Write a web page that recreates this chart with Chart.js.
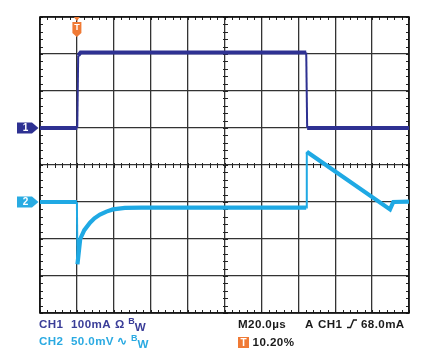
<!DOCTYPE html>
<html><head><meta charset="utf-8">
<script src="https://cdn.jsdelivr.net/npm/chart.js@4.4.1/dist/chart.umd.min.js"></script>
<style>
html,body{margin:0;padding:0;background:#fff;}
#wrap{position:relative;width:427px;height:363px;overflow:hidden;background:#fff;}
#c{position:absolute;left:0;top:0;}
.t{position:absolute;font-family:"Liberation Sans",Arial,sans-serif;font-weight:bold;font-size:11.6px;letter-spacing:0.4px;white-space:nowrap;line-height:12px;}
.c1{color:#3a3d98;}
.c2{color:#2aaae2;}
.k{color:#1a1a1a;}
.sup{font-size:9px;position:relative;top:-4px;letter-spacing:0;}
.sub{position:relative;top:3px;}
.tbox{display:inline-block;width:11px;height:11px;background:#f07a35;color:#fff;text-align:center;font-size:10px;line-height:11px;letter-spacing:0;}
</style></head>
<body><div id="wrap"><canvas id="c" width="427" height="363"></canvas>
<div class="t c1" style="left:39px;top:318px;">CH1</div>
<div class="t c1" style="left:71px;top:318px;">100mA</div>
<div class="t c1" style="left:115px;top:318px;">Ω <span class="sup">B</span><span class="sub">W</span></div>
<div class="t c2" style="left:39px;top:335px;">CH2</div>
<div class="t c2" style="left:71px;top:335px;">50.0mV</div>
<div class="t c2" style="left:117px;top:335px;"><span style="font-size:12px">∿</span> <span class="sup">B</span><span class="sub">W</span></div>
<div class="t k" style="left:238px;top:318px;">M20.0µs</div>
<div class="t k" style="left:305px;top:318px;">A</div>
<div class="t k" style="left:318px;top:318px;">CH1</div>
<svg style="position:absolute;left:347px;top:319px;" width="10" height="10"><path d="M0,8.5 H3.5 L6.5,1 H10" fill="none" stroke="#1a1a1a" stroke-width="1.4"/></svg>
<div class="t k" style="left:361px;top:318px;">68.0mA</div>
<div class="t k" style="left:238px;top:336px;"><span class="tbox">T</span> 10.20%</div>
</div>
<script>
// Horizontal: M20.0µs per division, trigger at 0 µs (one division from the left)
const timeMinUs = -20;
const timeMaxUs = 180;
const timePerDivUs = 20;
// Vertical divisions
const divMin = -4;
const divMax = 4;
// CH1: 100 mA/div, ground marker at +1 div
const ch1mAPerDiv = 100;
const ch1GroundDiv = 1;
// CH2: 50.0 mV/div, ground marker at -1 div
const ch2mVPerDiv = 50;
const ch2GroundDiv = -1;

const ch1TimeUs = [-20, 0.2, 0.7, 2.0, 124.3, 124.8, 180];
const ch1CurrentmA = [0, 0, 196, 204, 204, 0, 0];

const ch2TimeUs = [-20, 0.0, 0.3, 1.8, 4.0, 7.1, 9.5, 12.5, 16, 19.5, 26, 35, 124.3, 124.6, 169.7, 171.5, 180];
const ch2VoltagemV = [0, 0, -84, -50, -38, -28, -22, -17, -13, -10, -8, -7.5, -7.5, 68, -10, 0, 0.5];

const ch1Points = ch1TimeUs.map((t, i) => ({x: t, y: ch1GroundDiv + ch1CurrentmA[i] / ch1mAPerDiv}));
const ch2Points = ch2TimeUs.map((t, i) => ({x: t, y: ch2GroundDiv + ch2VoltagemV[i] / ch2mVPerDiv}));

const CH1_COLOR = '#2e3192';
const CH2_COLOR = '#1fa9e4';
const ORANGE = '#f07a35';

const segWidth = (thick, thin) => ({
  borderWidth: ctx => Math.abs(ctx.p1.parsed.x - ctx.p0.parsed.x) < 0.8 ? thin : thick
});

const scopePlugin = {
  id: 'scope',
  beforeDatasetsDraw(chart) {
    const {ctx, chartArea: a, scales: {x, y}} = chart;
    ctx.save();
    ctx.strokeStyle = '#222';
    ctx.lineWidth = 1;
    const cx = x.getPixelForValue((timeMinUs + timeMaxUs) / 2);
    const cy = y.getPixelForValue(0);
    ctx.beginPath();
    for (let t = timeMinUs; t <= timeMaxUs + 1e-6; t += timePerDivUs / 5) {
      const px = Math.round(x.getPixelForValue(t)) + 0.5;
      ctx.moveTo(px, a.top); ctx.lineTo(px, a.top + 3);
      ctx.moveTo(px, a.bottom); ctx.lineTo(px, a.bottom - 3);
      ctx.moveTo(px, Math.round(cy) - 2); ctx.lineTo(px, Math.round(cy) + 3);
    }
    for (let d = divMin; d <= divMax + 1e-6; d += 0.2) {
      const py = Math.round(y.getPixelForValue(d)) + 0.5;
      ctx.moveTo(a.left, py); ctx.lineTo(a.left + 3, py);
      ctx.moveTo(a.right, py); ctx.lineTo(a.right - 3, py);
      ctx.moveTo(Math.round(cx) - 2, py); ctx.lineTo(Math.round(cx) + 3, py);
    }
    ctx.stroke();
    ctx.strokeStyle = '#111';
    ctx.lineWidth = 1.6;
    ctx.strokeRect(a.left, a.top, a.right - a.left, a.bottom - a.top);
    ctx.restore();
  },
  afterDatasetsDraw(chart) {
    const {ctx, chartArea: a, scales: {x, y}} = chart;
    ctx.save();
    const drawMarker = (label, color, div) => {
      const cy = y.getPixelForValue(div);
      const l = 17, r = 32, tip = a.left - 1.5, h = 5.5;
      ctx.fillStyle = color;
      ctx.beginPath();
      ctx.moveTo(l, cy - h); ctx.lineTo(r, cy - h); ctx.lineTo(tip, cy);
      ctx.lineTo(r, cy + h); ctx.lineTo(l, cy + h); ctx.closePath();
      ctx.fill();
      ctx.fillStyle = '#fff';
      ctx.font = 'bold 10px "Liberation Sans", Arial, sans-serif';
      ctx.textAlign = 'center';
      ctx.textBaseline = 'middle';
      ctx.fillText(label, (l + r) / 2 + 1, cy + 0.5);
    };
    drawMarker('1', CH1_COLOR, ch1GroundDiv);
    drawMarker('2', '#29abe2', ch2GroundDiv);
    const tx = x.getPixelForValue(0);
    ctx.fillStyle = ORANGE;
    ctx.beginPath();
    ctx.moveTo(tx - 3, a.top); ctx.lineTo(tx + 3, a.top); ctx.lineTo(tx, a.top + 4); ctx.closePath();
    ctx.fill();
    ctx.beginPath();
    ctx.moveTo(tx - 4.5, a.top + 5); ctx.lineTo(tx + 4.5, a.top + 5);
    ctx.lineTo(tx + 4.5, a.top + 16); ctx.lineTo(tx, a.top + 20);
    ctx.lineTo(tx - 4.5, a.top + 16); ctx.closePath();
    ctx.fill();
    ctx.fillStyle = '#fff';
    ctx.font = 'bold 9px "Liberation Sans", Arial, sans-serif';
    ctx.textAlign = 'center';
    ctx.textBaseline = 'middle';
    ctx.fillText('T', tx, a.top + 11);
    ctx.restore();
  }
};

new Chart(document.getElementById('c'), {
  type: 'line',
  data: {
    datasets: [
      {label: 'CH1', data: ch1Points, borderColor: CH1_COLOR, borderWidth: 4, pointRadius: 0, tension: 0, segment: segWidth(4, 2)},
      {label: 'CH2', data: ch2Points, borderColor: CH2_COLOR, borderWidth: 4.2, pointRadius: 0, tension: 0, segment: segWidth(4.2, 2)}
    ]
  },
  options: {
    responsive: false,
    animation: false,
    devicePixelRatio: 1,
    layout: {padding: {left: 40, right: 18, top: 17, bottom: 50}},
    plugins: {legend: {display: false}, tooltip: {enabled: false}},
    scales: {
      x: {
        type: 'linear', min: timeMinUs, max: timeMaxUs,
        ticks: {display: false, stepSize: timePerDivUs},
        grid: {color: '#333', lineWidth: 1.3, drawTicks: false},
        border: {display: false}
      },
      y: {
        type: 'linear', min: divMin, max: divMax,
        ticks: {display: false, stepSize: 1},
        grid: {color: '#333', lineWidth: 1.3, drawTicks: false},
        border: {display: false}
      }
    }
  },
  plugins: [scopePlugin]
});
</script>
</body></html>
